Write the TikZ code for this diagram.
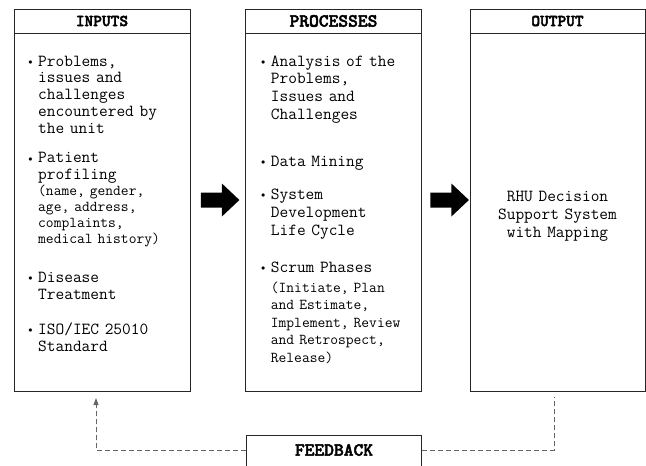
\documentclass[tikz,border=0pt]{standalone}
\usepackage{fontspec}
\usepackage{tikz}
\usetikzlibrary{arrows.meta}
\newfontfamily\hdbold{lmmonolt10-bold.otf}[FakeBold=2.5]
\def\bul{\llap{\raisebox{1.2pt}{\fontsize{8.5pt}{8.5pt}\selectfont$\bullet$}\hspace{5.5pt}}}
\def\blockarrow{++(0,-7.5) -- ++(21,0) -- ++(0,-9) -- ++(17.5,16.5) -- ++(-17.5,16.5) -- ++(0,-9) -- ++(-21,0) -- cycle}
\def\hdfont#1{\hdbold\fontsize{#1}{#1}\selectfont}

\begin{document}
\begin{tikzpicture}[x=1pt,y=-1pt,
    panel/.style={draw=black!85,line width=0.8pt,minimum height=382pt,inner sep=0pt},
    headbox/.style={draw=black!85,line width=0.8pt,anchor=north,minimum height=24pt,inner sep=0pt},
    itemtxt/.style={anchor=base west,align=left,text width=165pt,inner sep=0pt,
        font=\ttfamily\fontsize{16.9pt}{#1}\selectfont},
    notetxt/.style={anchor=base west,align=left,text width=165pt,inner sep=0pt,
        font=\ttfamily\fontsize{15.1pt}{#1}\selectfont},
    fbline/.style={draw=black!60,line width=0.8pt,dash pattern=on 5pt off 3pt}]
    \useasboundingbox (0,0) rectangle (646,466);
    % the three panels
    \node[panel,minimum width=176pt] (inputs) at (102,200) {};
    \node[panel,minimum width=176pt] (processes) at (333.5,200) {};
    \node[panel,minimum width=175pt] (output) at (557.5,200) {};
    \node[headbox,minimum width=176pt,font=\hdfont{16.6pt}] (inhead) at (inputs.north) {INPUTS};
    \node[headbox,minimum width=176pt,font=\hdfont{18.6pt}] (prhead) at (processes.north) {PROCESSES};
    \node[headbox,minimum width=175pt,font=\hdfont{16.6pt}] (outhead) at (output.north) {OUTPUT};
    % inputs
    \node[itemtxt=16.8pt] (in1) at (38,66) {\bul Problems,\\issues and\\challenges\\encountered by\\the unit};
    \node[itemtxt=16.7pt] (in2) at (38,162.5) {\bul Patient\\profiling};
    \node[notetxt=16pt] (in2note) at (38,195) {(name, gender,\\age, address,\\complaints,\\medical history)};
    \node[itemtxt=17pt] (in3) at (38,282) {\bul Disease\\Treatment};
    \node[itemtxt=17pt] (in4) at (38,334) {\bul ISO/IEC 25010\\Standard};
    % processes
    \node[itemtxt=17.8pt] (pr1) at (270.7,66) {\bul Analysis of the\\Problems,\\Issues and\\Challenges};
    \node[itemtxt=17.8pt] (pr2) at (270.7,166) {\bul Data Mining};
    \node[itemtxt=18pt] (pr3) at (270.7,199) {\bul System\\Development\\Life Cycle};
    \node[itemtxt=17.5pt] (pr4) at (270.7,272) {\bul Scrum Phases};
    \node[notetxt=17.5pt] (pr4note) at (270.7,292) {(Initiate, Plan\\and Estimate,\\Implement, Review\\and Retrospect,\\Release)};
    % output
    \node[anchor=base,align=center,text width=170pt,inner sep=0pt,
        font=\ttfamily\fontsize{16.9pt}{18pt}\selectfont] (outtxt) at (557.5,201) {RHU Decision\\Support System\\with Mapping};
    % block arrows
    \fill ([xshift=10.5pt]inputs.east) \blockarrow;
    \fill ([xshift=8.5pt]processes.east) \blockarrow;
    % feedback
    \node[minimum width=175pt,minimum height=28pt,inner sep=0pt,font=\hdfont{18.6pt}] (feedback) at (334,450) {FEEDBACK};
    \draw[black!85,line width=0.8pt] ([yshift=-4pt]feedback.south west) |- (feedback.north east) -- ([yshift=-4pt]feedback.south east);
    \coordinate (inret) at (96,398);
    \coordinate (outret) at (554,397);
    \draw[fbline,-{Triangle[length=7pt,width=5pt]}] (feedback.west) -| (inret);
    \draw[fbline] (feedback.east) -| (outret);
\end{tikzpicture}
\end{document}
